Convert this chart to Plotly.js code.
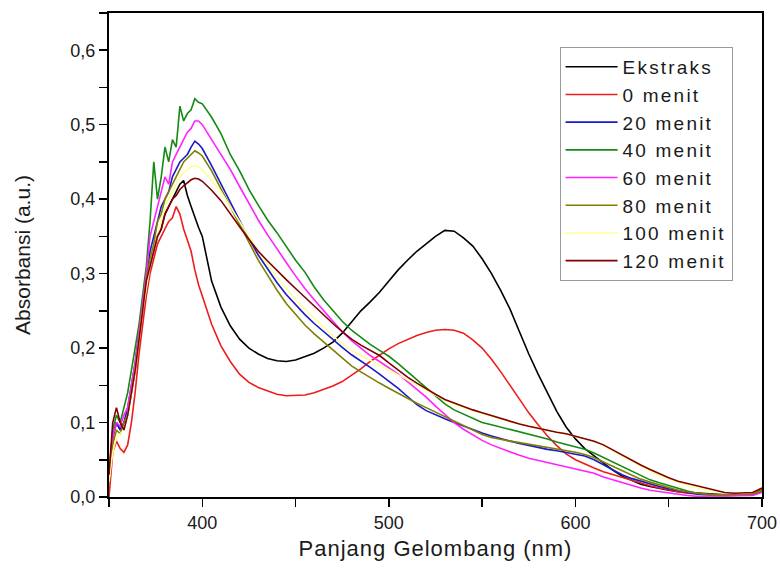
<!DOCTYPE html>
<html>
<head>
<meta charset="utf-8">
<script src="https://cdn.plot.ly/plotly-3.0.1.min.js"></script>
<style>
body { margin: 0; background: #fff; }
#chart { width: 780px; height: 572px; }
.legendtext { letter-spacing: 2.2px; }
.g-xtitle text { letter-spacing: 1px; }
</style>
</head>
<body>
<div id="chart"></div>
<script>
// Wavelength grid (nm)
const wavelength = [350,352,354,356,358,360,362,364,366,368,370,372,374,376,378,380,382,384,386,388,390,392,394,396,398,
  400,405,410,415,420,425,430,435,440,445,450,455,460,465,470,475,480,485,490,495,500,505,510,515,520,525,530,535,540,545,550,
  555,560,565,570,575,580,585,590,595,600,605,610,615,620,625,630,635,640,645,650,655,660,665,670,675,680,685,690,695,700];

const seriesNames = ["Ekstraks","0 menit","20 menit","40 menit","60 menit","80 menit","100 menit","120 menit"];

const ekstraks = [0.02,0.08,0.1,0.09,0.1,0.11,0.14,0.17,0.21,0.25,0.28,0.31,0.33,0.35,0.36,0.38,0.39,0.4,0.41,0.42,0.425,0.405,0.39,0.375,0.362,
  0.35,0.29,0.255,0.23,0.212,0.2,0.192,0.186,0.183,0.182,0.184,0.188,0.193,0.2,0.208,0.22,0.235,0.25,0.262,0.275,0.29,0.305,0.318,0.33,0.34,0.35,0.358,0.357,0.348,0.337,0.32,
  0.3,0.277,0.252,0.222,0.192,0.165,0.14,0.115,0.094,0.078,0.065,0.055,0.045,0.036,0.028,0.022,0.017,0.014,0.011,0.009,0.007,0.006,0.005,0.004,0.003,0.003,0.003,0.003,0.004,0.01];

const menit0 = [0.0,0.06,0.075,0.065,0.06,0.07,0.1,0.14,0.19,0.23,0.27,0.3,0.32,0.34,0.35,0.36,0.37,0.375,0.39,0.38,0.36,0.345,0.33,0.305,0.285,
  0.27,0.232,0.203,0.182,0.165,0.154,0.147,0.142,0.138,0.136,0.136,0.137,0.14,0.144,0.149,0.155,0.163,0.172,0.182,0.191,0.199,0.206,0.212,0.217,0.221,0.224,0.225,0.224,0.22,0.211,0.2,
  0.185,0.168,0.15,0.131,0.113,0.097,0.082,0.069,0.058,0.05,0.044,0.039,0.034,0.03,0.026,0.022,0.018,0.015,0.012,0.009,0.007,0.005,0.004,0.003,0.002,0.002,0.002,0.002,0.003,0.008];

const menit20 = [0.02,0.08,0.1,0.09,0.1,0.12,0.15,0.18,0.22,0.26,0.29,0.33,0.35,0.37,0.39,0.4,0.41,0.43,0.44,0.45,0.455,0.46,0.47,0.478,0.474,
  0.468,0.445,0.42,0.395,0.37,0.347,0.325,0.306,0.288,0.272,0.258,0.245,0.233,0.222,0.211,0.201,0.191,0.183,0.174,0.165,0.156,0.146,0.135,0.124,0.116,0.11,0.105,0.1,0.095,0.09,0.086,
  0.082,0.078,0.075,0.072,0.069,0.066,0.064,0.062,0.06,0.058,0.055,0.05,0.043,0.036,0.03,0.025,0.021,0.017,0.014,0.011,0.008,0.006,0.004,0.003,0.002,0.002,0.002,0.002,0.003,0.008];

const menit40 = [0.03,0.09,0.11,0.1,0.12,0.14,0.17,0.2,0.23,0.27,0.31,0.37,0.45,0.4,0.43,0.47,0.45,0.48,0.47,0.525,0.505,0.515,0.52,0.535,0.53,
  0.528,0.51,0.488,0.46,0.438,0.413,0.392,0.372,0.355,0.337,0.318,0.302,0.282,0.265,0.25,0.236,0.224,0.214,0.205,0.197,0.189,0.179,0.168,0.158,0.147,0.135,0.125,0.117,0.111,0.105,0.1,
  0.097,0.094,0.091,0.088,0.085,0.081,0.078,0.074,0.071,0.068,0.064,0.059,0.053,0.047,0.041,0.034,0.028,0.023,0.019,0.015,0.011,0.008,0.005,0.003,0.002,0.002,0.002,0.002,0.003,0.008];

const menit60 = [0.02,0.08,0.1,0.095,0.11,0.12,0.15,0.18,0.22,0.26,0.3,0.35,0.37,0.39,0.41,0.43,0.42,0.45,0.46,0.47,0.478,0.49,0.495,0.505,0.505,
  0.5,0.48,0.46,0.44,0.417,0.394,0.372,0.352,0.333,0.315,0.297,0.28,0.265,0.25,0.236,0.222,0.21,0.2,0.19,0.182,0.174,0.165,0.155,0.145,0.134,0.122,0.111,0.1,0.091,0.083,0.076,
  0.07,0.065,0.06,0.056,0.052,0.049,0.046,0.043,0.04,0.038,0.035,0.032,0.027,0.023,0.019,0.015,0.012,0.009,0.007,0.005,0.003,0.002,0.001,0.001,0.001,0.001,0.001,0.001,0.002,0.006];

const menit80 = [0.02,0.07,0.09,0.085,0.1,0.11,0.14,0.17,0.21,0.25,0.29,0.32,0.34,0.37,0.38,0.4,0.41,0.42,0.43,0.44,0.45,0.455,0.46,0.465,0.462,
  0.458,0.438,0.414,0.39,0.366,0.342,0.318,0.298,0.278,0.26,0.245,0.231,0.219,0.208,0.197,0.186,0.176,0.168,0.16,0.153,0.146,0.139,0.132,0.126,0.12,0.114,0.108,0.101,0.095,0.089,0.084,
  0.08,0.077,0.075,0.073,0.071,0.069,0.067,0.065,0.062,0.06,0.057,0.053,0.047,0.041,0.035,0.029,0.024,0.02,0.016,0.012,0.009,0.007,0.005,0.004,0.003,0.003,0.003,0.003,0.004,0.009];

const menit100 = [0.02,0.06,0.08,0.085,0.09,0.11,0.14,0.17,0.21,0.25,0.28,0.31,0.33,0.35,0.37,0.39,0.4,0.41,0.42,0.43,0.435,0.44,0.443,0.445,0.443,
  0.44,0.425,0.41,0.39,0.37,0.35,0.33,0.312,0.295,0.28,0.265,0.252,0.24,0.228,0.216,0.206,0.197,0.19,0.184,0.178,0.171,0.164,0.157,0.15,0.143,0.136,0.13,0.125,0.12,0.116,0.112,
  0.108,0.104,0.101,0.098,0.095,0.092,0.09,0.087,0.085,0.082,0.079,0.075,0.069,0.062,0.055,0.048,0.041,0.035,0.029,0.024,0.019,0.015,0.012,0.009,0.007,0.006,0.005,0.005,0.006,0.012];

const menit120 = [0.03,0.1,0.12,0.1,0.09,0.11,0.14,0.17,0.21,0.25,0.29,0.31,0.33,0.35,0.36,0.38,0.39,0.4,0.405,0.413,0.418,0.422,0.426,0.428,0.427,
  0.424,0.412,0.398,0.38,0.363,0.346,0.33,0.317,0.304,0.292,0.28,0.268,0.256,0.244,0.233,0.222,0.212,0.204,0.197,0.19,0.18,0.17,0.161,0.153,0.145,0.138,0.131,0.126,0.121,0.117,0.113,
  0.109,0.105,0.101,0.098,0.095,0.092,0.09,0.087,0.085,0.082,0.079,0.075,0.07,0.063,0.057,0.05,0.043,0.037,0.031,0.026,0.021,0.018,0.015,0.011,0.008,0.006,0.005,0.005,0.006,0.012];

const colors = ["#000000","#ee1c1c","#1a1acc","#138a13","#ff22ff","#7f7f00","#ffff99","#800000"];
const allSeries = [ekstraks, menit0, menit20, menit40, menit60, menit80, menit100, menit120];

const traces = allSeries.map((ys, i) => ({
  x: wavelength,
  y: ys,
  type: 'scatter',
  mode: 'lines',
  name: seriesNames[i],
  line: { color: colors[i], width: 1.6 }
}));

const fontFam = 'Liberation Sans, Arial, sans-serif';

const layout = {
  width: 780,
  height: 572,
  margin: { l: 109, r: 18, t: 13, b: 75 },
  paper_bgcolor: '#ffffff',
  plot_bgcolor: '#ffffff',
  separators: ',.',
  font: { family: fontFam, color: '#1a1a1a', size: 18 },
  showlegend: true,
  legend: {
    x: 0.69, y: 0.93, xanchor: 'left', yanchor: 'top',
    bgcolor: '#ffffff', bordercolor: '#9a9a9a', borderwidth: 1,
    font: { family: fontFam, size: 19, color: '#1a1a1a' },
    itemwidth: 52,
    traceorder: 'normal'
  },
  xaxis: {
    range: [350, 700],
    dtick: 100, tick0: 0,
    ticks: 'outside', ticklen: 8, tickwidth: 1.5, tickcolor: '#000',
    minor: { dtick: 50, ticks: 'outside', ticklen: 8, tickwidth: 1.5, tickcolor: '#000' },
    showline: true, linewidth: 2, linecolor: '#000', mirror: true,
    showgrid: false, zeroline: false,
    tickfont: { family: fontFam, size: 18, color: '#1a1a1a' },
    title: { text: 'Panjang Gelombang (nm)', font: { family: fontFam, size: 22, color: '#1a1a1a' }, standoff: 9 }
  },
  yaxis: {
    range: [0, 0.65],
    dtick: 0.1, tick0: 0, tickformat: '.1f',
    ticks: 'outside', ticklen: 8, tickwidth: 1.5, tickcolor: '#000',
    minor: { dtick: 0.05, ticks: 'outside', ticklen: 8, tickwidth: 1.5, tickcolor: '#000' },
    showline: true, linewidth: 2, linecolor: '#000', mirror: true,
    showgrid: false, zeroline: false,
    tickfont: { family: fontFam, size: 18, color: '#1a1a1a' },
    title: { text: 'Absorbansi (a.u.)', font: { family: fontFam, size: 21, color: '#1a1a1a' }, standoff: 34 }
  }
};

Plotly.newPlot('chart', traces, layout, { staticPlot: true, displayModeBar: false });
</script>
</body>
</html>
